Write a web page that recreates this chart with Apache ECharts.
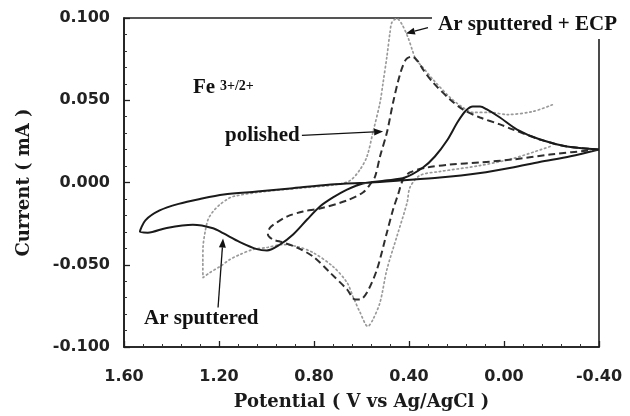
<!DOCTYPE html>
<html>
<head>
<meta charset="utf-8">
<script src="https://cdn.jsdelivr.net/npm/echarts@6/dist/echarts.min.js"></script>
<style>
  html, body { margin: 0; padding: 0; background: #fff; }
  #c { width: 630px; height: 416px; }
</style>
</head>
<body>
<div id="c"></div>
<script>
// Cyclic voltammograms of the Fe(3+/2+) couple on three electrode surfaces.
// Potential in V vs Ag/AgCl, current in mA.

// Ar sputtered (solid)
const sputteredV = [-0.40, -0.28, -0.15, -0.03, 0.10, 0.27, 0.44, 0.56, 0.73, 0.90, 1.04, 1.18, 1.28, 1.37, 1.45, 1.51, 1.533,
  1.50, 1.42, 1.31, 1.225, 1.183, 1.112, 1.04, 0.998, 0.943, 0.888, 0.829, 0.775, 0.72, 0.661, 0.594, 0.50, 0.417, 0.341,
  0.291, 0.24, 0.194, 0.16, 0.131, 0.101, 0.072, 0.017, -0.055, -0.152, -0.265, -0.40];
const sputteredI = [0.0201, 0.0160, 0.0125, 0.0090, 0.0058, 0.0030, 0.0012, 0.0000, -0.0012, -0.0036, -0.0055, -0.0073, -0.0100, -0.0130, -0.0170, -0.0230, -0.0300,
  -0.0305, -0.0276, -0.0257, -0.0278, -0.0308, -0.0362, -0.0405, -0.0413, -0.0377, -0.0316, -0.0225, -0.0146, -0.0091, -0.0043, -0.0006, 0.0012, 0.0030, 0.0091,
  0.0158, 0.0255, 0.0371, 0.0438, 0.0462, 0.0462, 0.0444, 0.0395, 0.0322, 0.0261, 0.0219, 0.0201];

// polished (dashed)
const polishedV = [-0.40, -0.194, -0.038, 0.101, 0.227, 0.324, 0.396, 0.425, 0.446, 0.467, 0.493, 0.535, 0.577, 0.606, 0.627, 0.661,
  0.733, 0.804, 0.872, 0.943, 0.973, 0.994, 0.985, 0.956, 0.914, 0.846, 0.775, 0.661, 0.594, 0.564, 0.543, 0.522, 0.493, 0.467,
  0.438, 0.413, 0.387, 0.362, 0.341, 0.299, 0.227, 0.173, 0.101, 0.017, -0.038, -0.152, -0.265, -0.40];
const polishedI = [0.0201, 0.0170, 0.0140, 0.0122, 0.0109, 0.0091, 0.0061, 0.0018, -0.0073, -0.0164, -0.0304, -0.0529, -0.0669, -0.0711, -0.0711, -0.0650,
  -0.0547, -0.0450, -0.0395, -0.0359, -0.0347, -0.0316, -0.0274, -0.0243, -0.0207, -0.0176, -0.0158, -0.0109, -0.0061, -0.0012, 0.0036, 0.0158, 0.0304, 0.0486,
  0.0657, 0.0748, 0.0766, 0.0736, 0.0687, 0.0608, 0.0505, 0.0444, 0.0395, 0.0353, 0.0322, 0.0261, 0.0219, 0.0201];

// Ar sputtered + ECP (dotted)
const ecpV = [-0.194, -0.038, 0.101, 0.269, 0.354, 0.396, 0.408, 0.451, 0.493, 0.522, 0.552, 0.573, 0.606, 0.636, 0.661, 0.720,
  0.804, 0.872, 0.931, 0.998, 1.057, 1.112, 1.154, 1.196, 1.238, 1.267, 1.268, 1.267, 1.259, 1.246, 1.225, 1.196, 1.166, 1.141,
  1.027, 0.859, 0.712, 0.648, 0.606, 0.577, 0.552, 0.522, 0.509, 0.493, 0.480, 0.472, 0.451, 0.429, 0.404, 0.387, 0.371, 0.341,
  0.299, 0.227, 0.173, 0.131, 0.059, -0.013, -0.122, -0.206];
const ecpI = [0.0219, 0.0146, 0.0103, 0.0067, 0.0043, -0.0030, -0.0122, -0.0328, -0.0529, -0.0729, -0.0833, -0.0875, -0.0790, -0.0693, -0.0608, -0.0511,
  -0.0426, -0.0389, -0.0377, -0.0395, -0.0407, -0.0438, -0.0468, -0.0511, -0.0547, -0.0578, -0.0486, -0.0389, -0.0304, -0.0225, -0.0176, -0.0134, -0.0103, -0.0085,
  -0.0058, -0.0034, -0.0014, 0.0012, 0.0079, 0.0158, 0.0304, 0.0486, 0.0608, 0.0766, 0.0912, 0.0973, 0.0997, 0.0960, 0.0881, 0.0809, 0.0748, 0.0699,
  0.0626, 0.0517, 0.0456, 0.0426, 0.0426, 0.0413, 0.0432, 0.0474];

// Axis ranges and tick steps
const potentialRange = [-0.40, 1.60];
const potentialStep = 0.40;
const currentRange = [-0.100, 0.100];
const currentStep = 0.050;

// Curve labels and their arrows (tail -> head, in V / mA)
const arrowTails = [[0.32, 0.0942], [0.851, 0.0286], [1.204, -0.076]];
const arrowHeads = [[0.413, 0.0906], [0.509, 0.031], [1.183, -0.034]];

const zip = (xs, ys) => xs.map((x, i) => [x, ys[i]]);

const chart = echarts.init(document.getElementById('c'), null, { renderer: 'canvas' });

const labelFont = 'Liberation Serif';
const tickFont = 'DejaVu Sans';
const titleFont = 'DejaVu Serif';

chart.setOption({
  animation: false,
  backgroundColor: '#fff',
  grid: {
    left: 124, right: 31, top: 18, bottom: 69,
    show: true, borderColor: '#1e1e1e', borderWidth: 1.6, backgroundColor: 'transparent'
  },
  xAxis: {
    type: 'value',
    inverse: true,
    min: potentialRange[0], max: potentialRange[1], interval: potentialStep,
    name: 'Potential ( V vs Ag/AgCl )',
    nameLocation: 'middle', nameGap: 46,
    nameTextStyle: { fontFamily: titleFont, fontWeight: 'bold', fontSize: 18, color: '#1a1a1a' },
    axisLine: { show: true, onZero: false, lineStyle: { color: '#1e1e1e', width: 1.6 } },
    axisTick: { show: true, inside: true, length: 6, lineStyle: { color: '#1e1e1e', width: 1.3 } },
    minorTick: { show: true, splitNumber: 5, length: 3, lineStyle: { color: '#333', width: 1 } },
    splitLine: { show: false },
    axisLabel: {
      margin: 22, fontFamily: tickFont, fontWeight: 'bold', fontSize: 16, color: '#222',
      formatter: v => v.toFixed(2)
    }
  },
  yAxis: {
    type: 'value',
    min: currentRange[0], max: currentRange[1], interval: currentStep,
    name: 'Current ( mA )',
    nameLocation: 'middle', nameGap: 91, nameRotate: 90,
    nameTextStyle: { fontFamily: titleFont, fontWeight: 'bold', fontSize: 18, color: '#1a1a1a' },
    axisLine: { show: true, onZero: false, lineStyle: { color: '#1e1e1e', width: 1.6 } },
    axisTick: { show: true, inside: true, length: 6, lineStyle: { color: '#1e1e1e', width: 1.3 } },
    minorTick: { show: true, splitNumber: 5, length: 3, lineStyle: { color: '#333', width: 1 } },
    splitLine: { show: false },
    axisLabel: {
      margin: 14, fontFamily: tickFont, fontWeight: 'bold', fontSize: 16, color: '#222',
      formatter: v => v.toFixed(3)
    }
  },
  series: [
    {
      name: 'Ar sputtered + ECP', type: 'line', data: zip(ecpV, ecpI),
      showSymbol: false, smooth: 0.3, z: 2,
      lineStyle: { color: '#9a9a9a', width: 1.7, type: [1.5, 3], cap: 'round' }
    },
    {
      name: 'polished', type: 'line', data: zip(polishedV, polishedI),
      showSymbol: false, smooth: 0.3, z: 3,
      lineStyle: { color: '#2e2e2e', width: 2, type: [7, 4] }
    },
    {
      name: 'Ar sputtered', type: 'line', data: zip(sputteredV, sputteredI),
      showSymbol: false, smooth: 0.3, z: 4,
      lineStyle: { color: '#1a1a1a', width: 2 }
    }
  ]
});

// Annotations: labels, arrows and the white block behind the top-right label
function arrow(from, to) {
  const a = chart.convertToPixel({ gridIndex: 0 }, from);
  const b = chart.convertToPixel({ gridIndex: 0 }, to);
  const dx = b[0] - a[0], dy = b[1] - a[1];
  const len = Math.hypot(dx, dy);
  const ux = dx / len, uy = dy / len;
  const head = 9, half = 3.5;
  const bx = b[0] - ux * head, by = b[1] - uy * head;
  return [
    { type: 'line', z: 20, shape: { x1: a[0], y1: a[1], x2: bx, y2: by },
      style: { stroke: '#111', lineWidth: 1.3 } },
    { type: 'polygon', z: 20,
      shape: { points: [[b[0], b[1]], [bx - uy * half, by + ux * half], [bx + uy * half, by - ux * half]] },
      style: { fill: '#111' } }
  ];
}

const labelStyle = (text, x, y, size) => ({
  type: 'text', z: 22, x, y,
  style: { text, fontFamily: labelFont, fontWeight: 'bold', fontSize: size, fill: '#111',
           align: 'left', verticalAlign: 'middle' }
});

const graphics = [
  { type: 'rect', z: 15, shape: { x: 432, y: 0, width: 198, height: 39 }, style: { fill: '#fff' } },
  labelStyle('Ar sputtered + ECP', 438, 25, 21),
  labelStyle('polished', 225, 136, 21),
  labelStyle('Ar sputtered', 144, 319, 21),
  labelStyle('Fe', 193, 88, 21),
  labelStyle('3+/2+', 220, 86, 14)
];
arrowTails.forEach((t, i) => graphics.push(...arrow(t, arrowHeads[i])));

chart.setOption({ graphic: graphics });
</script>
</body>
</html>
